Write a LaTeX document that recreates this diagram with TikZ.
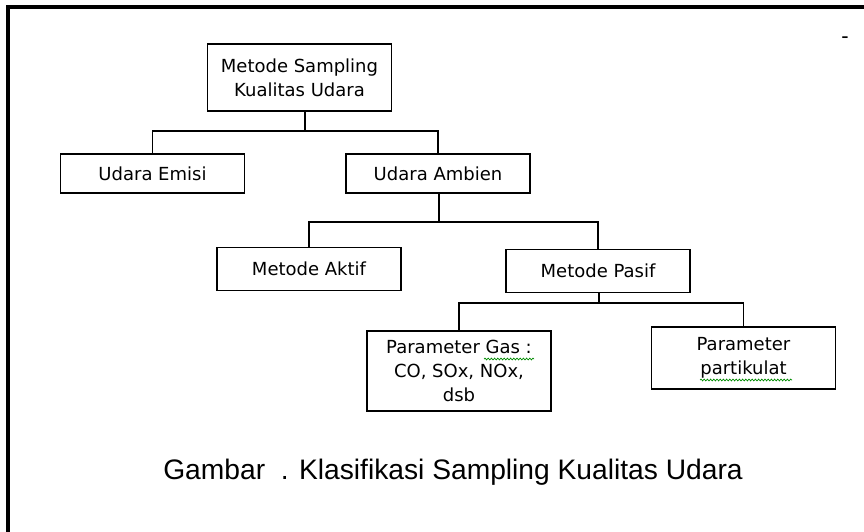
\documentclass[tikz,border=0pt]{standalone}
\usepackage{fontspec}
\setmainfont{DejaVu Sans}
\newfontfamily\capfont{Liberation Sans}
\usetikzlibrary{decorations.pathmorphing}
\begin{document}
\begin{tikzpicture}[x=1pt,y=-1pt,
 box/.style={draw, line width=1.5pt, minimum width=184pt, inner sep=0pt, align=center, font=\fontsize{18}{24}\selectfont},
 conn/.style={line width=1.5pt},
 wavy/.style={draw=green!55!black, line width=0.7pt, decorate, decoration={snake, amplitude=0.9pt, segment length=3.2pt}},
 captext/.style={font=\capfont\fontsize{28.2}{32}\selectfont, anchor=base, inner sep=0pt}]
\useasboundingbox (0,0) rectangle (864,531);
\fill[white] (0,0) rectangle (864,531);
\begin{scope}
\clip (0,0) rectangle (864,531);
\draw[line width=3.8pt] (8,7) rectangle (880,545);
\end{scope}
\node[box, minimum height=67pt] (top) at (299.5,77.5) {Metode Sampling\\Kualitas Udara};
\node[box, minimum height=39pt] (emisi) at (152.5,173.5) {Udara Emisi};
\node[box, minimum height=39pt] (ambien) at (438,173.5) {Udara Ambien};
\node[box, minimum height=43pt] (aktif) at (309,269) {Metode Aktif};
\node[box, minimum height=43pt] (pasif) at (598,271) {Metode Pasif};
\node[box, minimum height=80pt] (gas) at (459,371) {Parameter Gas :\\CO, SOx, NOx,\\dsb};
\node[box, minimum height=62pt] (part) at (743.5,358) {Parameter\\partikulat};
\coordinate (j1) at (305,131);
\draw[conn] (top.south -| j1) -- (j1);
\draw[conn] (emisi.north) |- (ambien.north |- j1) -- (ambien.north);
\coordinate (j2) at (439,222);
\draw[conn] (ambien.south -| j2) -- (j2);
\draw[conn] (aktif.north) |- (pasif.north |- j2) -- (pasif.north);
\coordinate (j3) at (599,303);
\draw[conn] (pasif.south -| j3) -- (j3);
\draw[conn] (gas.north) |- (part.north |- j3) -- (part.north);
\coordinate (w1a) at (484,359);
\coordinate (w1b) at (534,359);
\draw[wavy] (w1a) -- (w1b);
\coordinate (w2a) at (700,380);
\coordinate (w2b) at (792,380);
\draw[wavy] (w2a) -- (w2b);
\node[captext] (cap) at (453,479) {Gambar\ \ . Klasifikasi Sampling Kualitas Udara};
\node[font=\capfont\fontsize{22}{24}\selectfont, inner sep=0pt] (dash) at (845,40) {-};
\end{tikzpicture}
\end{document}
